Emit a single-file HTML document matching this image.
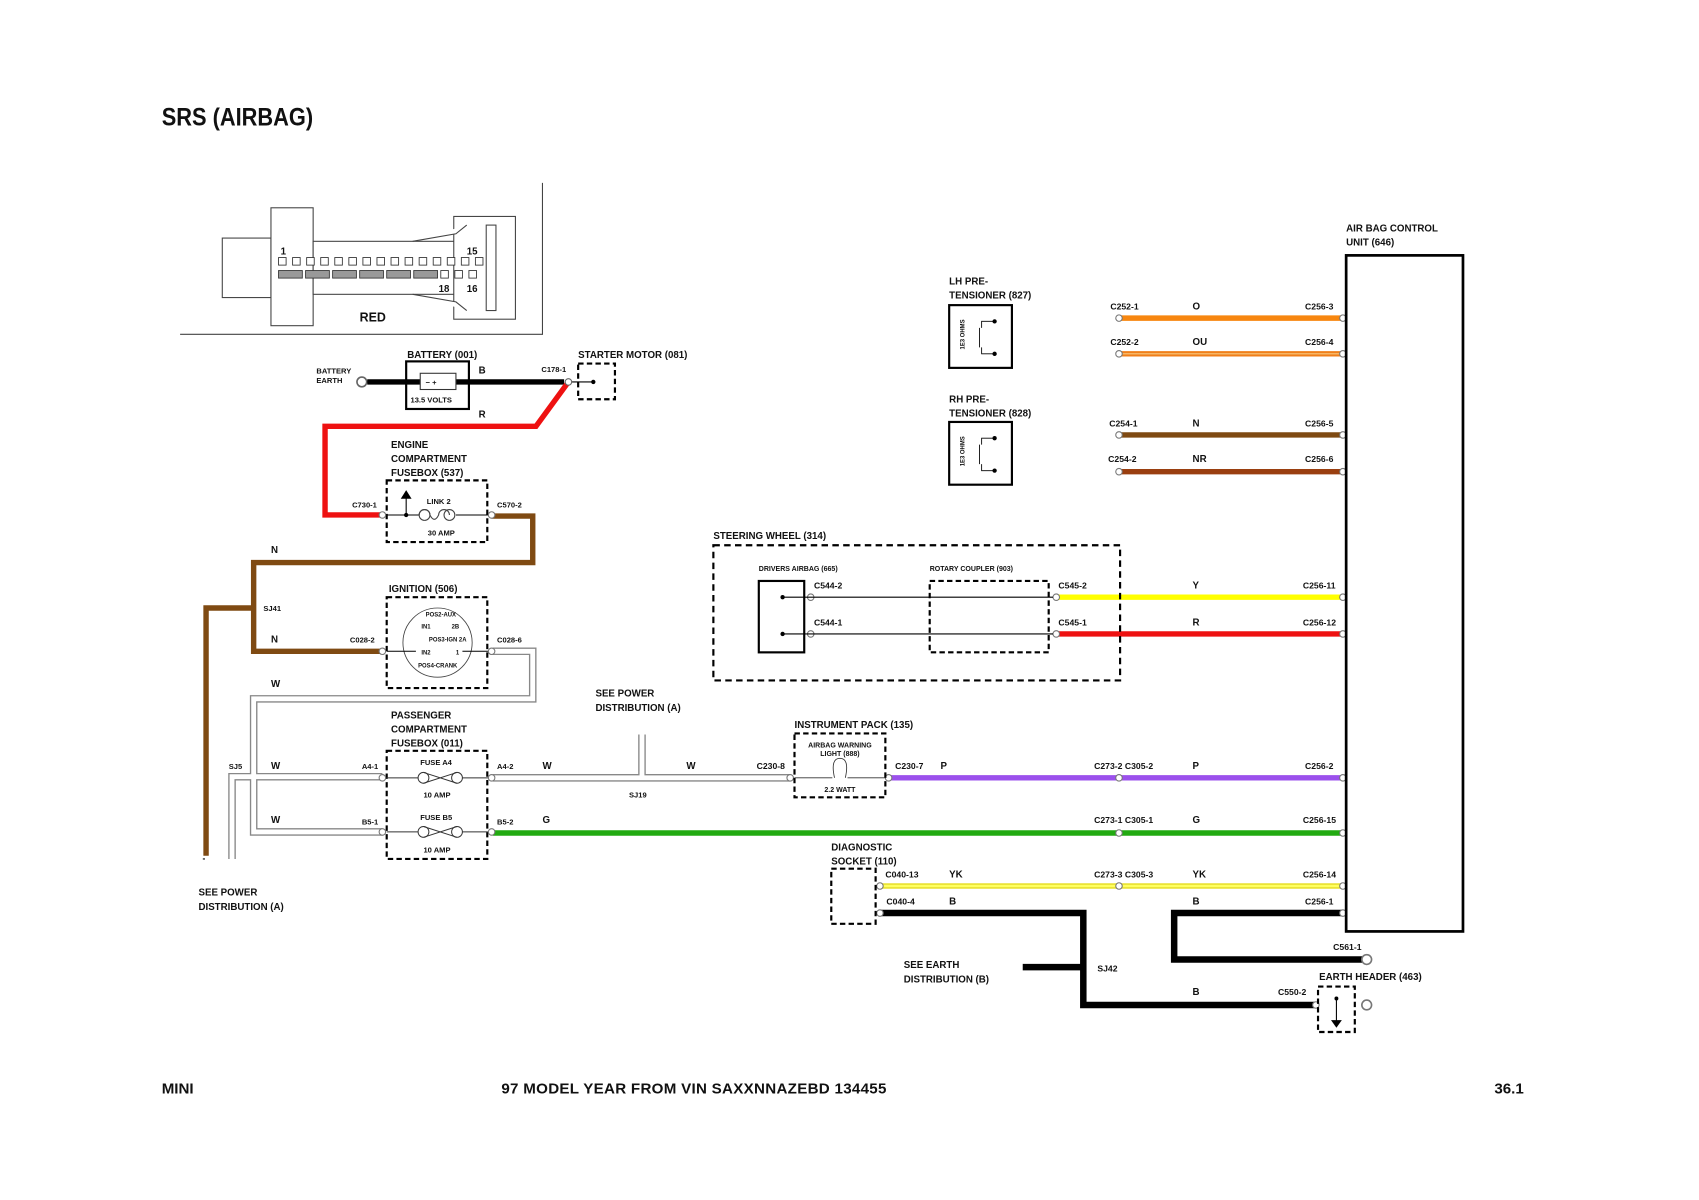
<!DOCTYPE html>
<html><head><meta charset="utf-8"><style>
html,body{margin:0;padding:0;background:#fff}
svg{display:block}
text{font-family:"Liberation Sans Narrow","Liberation Sans",sans-serif;font-weight:bold;fill:#111}
.s{font-size:9px}.m{font-size:11.5px}.xs{font-size:7px}.l{font-size:14px}
</style></head><body>
<svg width="1699" height="1200" viewBox="-1.5 -1.1 1570.7 1109.4" preserveAspectRatio="none" xmlns="http://www.w3.org/2000/svg">
<rect x="-2" y="-2" width="1580" height="1120" fill="#fff"/>
<text x="148" y="115" style="font-size:23px" textLength="140" lengthAdjust="spacingAndGlyphs">SRS (AIRBAG)</text>

<!-- connector picture -->
<g fill="#fff" stroke="#444" stroke-width="1">
<path d="M500 168 V308 H165" fill="none"/>
<rect x="204" y="219" width="45" height="55"/>
<rect x="249" y="191" width="39" height="109"/>
<rect x="288" y="222" width="162" height="49"/>
<rect x="418" y="199" width="57" height="95"/>
<rect x="448" y="207" width="9" height="79"/>
<path d="M380 222 L420 215 L430 207 M380 271 L420 278 L430 286"/>
</g>
<g fill="#fff" stroke="#333" stroke-width="0.8">
<rect x="256" y="237" width="7" height="7"/><rect x="269" y="237" width="7" height="7"/><rect x="282" y="237" width="7" height="7"/><rect x="295" y="237" width="7" height="7"/><rect x="308" y="237" width="7" height="7"/><rect x="321" y="237" width="7" height="7"/><rect x="334" y="237" width="7" height="7"/><rect x="347" y="237" width="7" height="7"/><rect x="360" y="237" width="7" height="7"/><rect x="373" y="237" width="7" height="7"/><rect x="386" y="237" width="7" height="7"/><rect x="399" y="237" width="7" height="7"/><rect x="412" y="237" width="7" height="7"/><rect x="425" y="237" width="7" height="7"/><rect x="438" y="237" width="7" height="7"/>
<rect x="256" y="249" width="22" height="7" fill="#999"/><rect x="281" y="249" width="22" height="7" fill="#999"/><rect x="306" y="249" width="22" height="7" fill="#999"/><rect x="331" y="249" width="22" height="7" fill="#999"/><rect x="356" y="249" width="22" height="7" fill="#999"/><rect x="381" y="249" width="22" height="7" fill="#999"/>
<rect x="406" y="249" width="7" height="7"/><rect x="419" y="249" width="7" height="7"/><rect x="432" y="249" width="7" height="7"/>
</g>
<text x="258" y="234" class="s">1</text><text x="430" y="234" class="s">15</text>
<text x="404" y="269" class="s">18</text><text x="430" y="269" class="s">16</text>
<text x="331" y="296" class="m">RED</text>

<!-- battery -->
<text x="375" y="330" class="s">BATTERY (001)</text>
<text x="291" y="344" class="xs">BATTERY</text><text x="291" y="353" class="xs">EARTH</text>
<circle cx="333" cy="352" r="4.5" fill="#fff" stroke="#666" stroke-width="1.5"/>
<path d="M338 352 H520" stroke="#000" stroke-width="5"/>
<rect x="374" y="333" width="58" height="44" fill="none" stroke="#000" stroke-width="2"/>
<rect x="387" y="344" width="33" height="15" fill="#fff" stroke="#333"/>
<text x="392" y="355" class="xs">−  +</text>
<text x="378" y="371" class="xs">13.5 VOLTS</text>
<text x="441" y="344" class="s">B</text><text x="441" y="385" class="s">R</text>
<text x="499" y="343" class="xs">C178-1</text>
<path d="M524 352 L494 393 H299 V475 H352" fill="none" stroke="#ee1111" stroke-width="5"/>
<rect x="533" y="335" width="34" height="33" fill="none" stroke="#000" stroke-width="2" stroke-dasharray="5,3"/>
<path d="M525 352 H547" stroke="#000"/><circle cx="547" cy="352" r="2" fill="#000"/>
<circle cx="524" cy="352" r="3" fill="#fff" stroke="#666"/>
<text x="533" y="330" class="s">STARTER MOTOR (081)</text>

<!-- engine fusebox -->
<text x="360" y="413" class="s">ENGINE</text><text x="360" y="426" class="s">COMPARTMENT</text><text x="360" y="439" class="s">FUSEBOX (537)</text>
<rect x="356" y="443" width="93" height="57" fill="none" stroke="#000" stroke-width="2" stroke-dasharray="5,3"/>
<text x="324" y="468" class="xs">C730-1</text><text x="458" y="468" class="xs">C570-2</text>
<text x="393" y="465" class="xs">LINK 2</text><text x="394" y="494" class="xs">30 AMP</text>
<path d="M356 475 H386 M420 475 H452 M374 475 V458" stroke="#000" fill="none"/>
<path d="M369 460 L374 452 L379 460Z" fill="#000"/><circle cx="374" cy="475" r="2" fill="#000"/>
<path d="M386 475 a5 5 0 0 1 10 0 q4 8 8 0 a5 5 0 0 1 10 0" fill="none" stroke="#444"/>
<circle cx="391" cy="475" r="5" fill="none" stroke="#444"/><circle cx="414" cy="475" r="5" fill="none" stroke="#444"/>
<path d="M453 476 H491 V519 H233 V601 H352 M233 561 H189 V790" fill="none" stroke="#7f4a12" stroke-width="5"/>
<text x="249" y="510" class="s">N</text><text x="249" y="593" class="s">N</text>
<text x="242" y="564" class="xs">SJ41</text>
<path d="M186 793 h2" stroke="#000"/>

<!-- ignition -->
<text x="358" y="546" class="s">IGNITION (506)</text>
<rect x="356" y="551" width="93" height="84" fill="none" stroke="#000" stroke-width="2" stroke-dasharray="5,3"/>
<circle cx="403" cy="593" r="32" fill="none" stroke="#444" stroke-width="0.8"/>
<g style="font-size:5.5px"><text x="392" y="569">POS2-AUX</text><text x="388" y="580">IN1</text><text x="416" y="580">2B</text><text x="395" y="592">POS3-IGN 2A</text><text x="388" y="604">IN2</text><text x="420" y="604">1</text><text x="385" y="616">POS4-CRANK</text></g>
<text x="322" y="593" class="xs">C028-2</text><text x="458" y="593" class="xs">C028-6</text>
<path d="M356 601 H383 M426 601 H452" stroke="#000"/>

<!-- white wires -->
<g fill="none" stroke="#888" stroke-width="7">
<path d="M454 601 H491 V645 H233 V768 H352"/><path d="M233 717 H352 M233 717 H213 V793"/>
<path d="M454 718 H729 M592 718 V678"/></g>
<g fill="none" stroke="#fff" stroke-width="4.5">
<path d="M454 601 H491 V645 H233 V768 H352"/><path d="M233 717 H352 M233 717 H213 V793"/>
<path d="M454 718 H729 M592 718 V678"/></g>
<text x="249" y="634" class="s">W</text><text x="249" y="710" class="s">W</text><text x="249" y="760" class="s">W</text>
<text x="210" y="710" class="xs">SJ5</text>
<text x="182" y="827" class="s">SEE POWER</text><text x="182" y="840" class="s">DISTRIBUTION (A)</text>

<!-- passenger fusebox -->
<text x="360" y="663" class="s">PASSENGER</text><text x="360" y="676" class="s">COMPARTMENT</text><text x="360" y="689" class="s">FUSEBOX (011)</text>
<rect x="356" y="693" width="93" height="100" fill="none" stroke="#000" stroke-width="2" stroke-dasharray="5,3"/>
<text x="333" y="710" class="xs">A4-1</text><text x="458" y="710" class="xs">A4-2</text>
<text x="333" y="761" class="xs">B5-1</text><text x="458" y="761" class="xs">B5-2</text>
<text x="387" y="706" class="xs">FUSE A4</text><text x="390" y="736" class="xs">10 AMP</text>
<text x="387" y="757" class="xs">FUSE B5</text><text x="390" y="787" class="xs">10 AMP</text>
<g fill="none" stroke="#333" stroke-width="0.9">
<path d="M356 718 H385 M426 718 H452 M356 768 H385 M426 768 H452"/>
<circle cx="390" cy="718" r="5"/><circle cx="421" cy="718" r="5"/><path d="M390 713 L421 723 M390 723 L421 713"/>
<circle cx="390" cy="768" r="5"/><circle cx="421" cy="768" r="5"/><path d="M390 763 L421 773 M390 773 L421 763"/>
</g>
<text x="500" y="710" class="s">W</text><text x="633" y="710" class="s">W</text>
<text x="580" y="736" class="xs">SJ19</text>
<text x="549" y="643" class="s">SEE POWER</text><text x="549" y="656" class="s">DISTRIBUTION (A)</text>

<!-- colored wires -->
<g fill="none" stroke-width="5">
<path d="M1033 293 H1240" stroke="#f7860f"/>
<path d="M1033 326 H1240" stroke="#f07f1a"/>
<path d="M1033 401 H1240" stroke="#7f4a12"/>
<path d="M1033 435 H1240" stroke="#9a3f10"/>
<path d="M975 551 H1240" stroke="#ffff00"/>
<path d="M975 585 H1240" stroke="#ee1111"/>
<path d="M820 718 H1240" stroke="#9b50ec"/>
<path d="M454 769 H1240" stroke="#22aa11"/>
<path d="M812 818 H1240" stroke="#e8e030"/>
<path d="M812 843 H1000 V928 H1215 M944 893 H1000 M1240 843 H1084 V886 H1258" stroke="#000" stroke-width="6"/>
</g>
<path d="M1033 326 H1240" stroke="#f8c880" stroke-width="1"/>
<path d="M812 818 H1240" stroke="#ffff60" stroke-width="2"/>
<g fill="#fff" stroke="#777" stroke-width="1">
<circle cx="1033" cy="293" r="3"/><circle cx="1240" cy="293" r="3"/><circle cx="1033" cy="326" r="3"/><circle cx="1240" cy="326" r="3"/>
<circle cx="1033" cy="401" r="3"/><circle cx="1240" cy="401" r="3"/><circle cx="1033" cy="435" r="3"/><circle cx="1240" cy="435" r="3"/>
<circle cx="1240" cy="551" r="3"/><circle cx="1240" cy="585" r="3"/><circle cx="1240" cy="718" r="3"/><circle cx="1240" cy="769" r="3"/>
<circle cx="1240" cy="818" r="3"/><circle cx="1240" cy="843" r="3"/><circle cx="1033" cy="718" r="3"/><circle cx="1033" cy="769" r="3"/><circle cx="1033" cy="818" r="3"/>
<circle cx="975" cy="551" r="3"/><circle cx="975" cy="585" r="3"/><circle cx="748" cy="551" r="3"/><circle cx="748" cy="585" r="3"/>
<circle cx="729" cy="718" r="3"/><circle cx="820" cy="718" r="3"/><circle cx="812" cy="818" r="3"/><circle cx="812" cy="843" r="3"/>
<circle cx="352" cy="475" r="3"/><circle cx="453" cy="475" r="3"/><circle cx="352" cy="601" r="3"/><circle cx="453" cy="601" r="3"/>
<circle cx="352" cy="718" r="3"/><circle cx="453" cy="718" r="3"/><circle cx="352" cy="768" r="3"/><circle cx="453" cy="768" r="3"/>
<circle cx="1215" cy="928" r="3"/>
<circle cx="1262" cy="886" r="4.5" stroke-width="1.5"/><circle cx="1262" cy="928" r="4.5" stroke-width="1.5"/>
</g>
<g class="xs" style="font-size:8px">
<text x="1025" y="285">C252-1</text><text x="1205" y="285">C256-3</text>
<text x="1025" y="318">C252-2</text><text x="1205" y="318">C256-4</text>
<text x="1024" y="393">C254-1</text><text x="1205" y="393">C256-5</text>
<text x="1023" y="426">C254-2</text><text x="1205" y="426">C256-6</text>
<text x="977" y="543">C545-2</text><text x="1203" y="543">C256-11</text>
<text x="977" y="577">C545-1</text><text x="1203" y="577">C256-12</text>
<text x="826" y="710">C230-7</text><text x="698" y="710">C230-8</text><text x="1010" y="710">C273-2 C305-2</text><text x="1205" y="710">C256-2</text>
<text x="1010" y="760">C273-1 C305-1</text><text x="1203" y="760">C256-15</text>
<text x="817" y="810">C040-13</text><text x="1010" y="810">C273-3 C305-3</text><text x="1203" y="810">C256-14</text>
<text x="818" y="835">C040-4</text><text x="1205" y="835">C256-1</text>
<text x="1231" y="877">C561-1</text><text x="1180" y="919">C550-2</text><text x="1013" y="897">SJ42</text>
</g>
<g class="s">
<text x="1101" y="285">O</text><text x="1101" y="318">OU</text><text x="1101" y="393">N</text><text x="1101" y="426">NR</text>
<text x="1101" y="543">Y</text><text x="1101" y="577">R</text><text x="868" y="710">P</text><text x="1101" y="710">P</text>
<text x="500" y="760">G</text><text x="1101" y="760">G</text><text x="876" y="810">YK</text><text x="1101" y="810">YK</text>
<text x="876" y="835">B</text><text x="1101" y="835">B</text><text x="1101" y="919">B</text>
</g>

<!-- ACU -->
<text x="1243" y="213" class="s">AIR BAG CONTROL</text><text x="1243" y="226" class="s">UNIT (646)</text>
<rect x="1243" y="235" width="108" height="625" fill="none" stroke="#000" stroke-width="2.5"/>

<!-- pretensioners -->
<text x="876" y="262" class="s">LH PRE-</text><text x="876" y="275" class="s">TENSIONER (827)</text>
<text x="876" y="371" class="s">RH PRE-</text><text x="876" y="384" class="s">TENSIONER (828)</text>
<g fill="none" stroke="#000">
<rect x="876" y="281" width="58" height="58" stroke-width="2"/>
<rect x="876" y="389" width="58" height="58" stroke-width="2"/>
<path d="M918 296 H906 V302 M906 320 V326 H918 M904 302 V320" stroke-width="0.8"/>
<path d="M918 404 H906 V410 M906 428 V434 H918 M904 410 V428" stroke-width="0.8"/>
</g>
<g fill="#000"><circle cx="918" cy="296" r="2"/><circle cx="918" cy="326" r="2"/><circle cx="918" cy="404" r="2"/><circle cx="918" cy="434" r="2"/></g>
<text transform="translate(890,322) rotate(-90)" style="font-size:5.5px">1E3 OHMS</text>
<text transform="translate(890,430) rotate(-90)" style="font-size:5.5px">1E3 OHMS</text>

<!-- steering wheel -->
<text x="658" y="497" class="s">STEERING WHEEL (314)</text>
<rect x="658" y="503" width="376" height="125" fill="none" stroke="#000" stroke-width="2" stroke-dasharray="6,4"/>
<text x="700" y="527" style="font-size:6.5px">DRIVERS AIRBAG (665)</text>
<text x="858" y="527" style="font-size:6.5px">ROTARY COUPLER (903)</text>
<rect x="700" y="536" width="42" height="66" fill="none" stroke="#000" stroke-width="2"/>
<rect x="858" y="536" width="110" height="66" fill="none" stroke="#000" stroke-width="2" stroke-dasharray="5,3"/>
<path d="M722 551 H972 M722 585 H972" stroke="#000"/>
<circle cx="722" cy="551" r="2" fill="#000"/><circle cx="722" cy="585" r="2" fill="#000"/>
<text x="751" y="543" style="font-size:8px">C544-2</text><text x="751" y="577" style="font-size:8px">C544-1</text>

<!-- instrument pack -->
<text x="733" y="672" class="s">INSTRUMENT PACK (135)</text>
<rect x="733" y="677" width="84" height="59" fill="none" stroke="#000" stroke-width="2" stroke-dasharray="5,3"/>
<text x="775" y="690" text-anchor="middle" style="font-size:6.5px">AIRBAG WARNING</text>
<text x="775" y="698" text-anchor="middle" style="font-size:6.5px">LIGHT (888)</text>
<text x="775" y="731" text-anchor="middle" style="font-size:6.5px">2.2 WATT</text>
<path d="M733 718 H768 M782 718 H817 M770 718 Q766 700 775 700 Q784 700 780 718" fill="none" stroke="#333" stroke-width="0.8"/>

<!-- diagnostic -->
<text x="767" y="785" class="s">DIAGNOSTIC</text><text x="767" y="798" class="s">SOCKET (110)</text>
<rect x="767" y="802" width="41" height="51" fill="none" stroke="#000" stroke-width="2" stroke-dasharray="5,3"/>
<text x="834" y="894" class="s">SEE EARTH</text><text x="834" y="907" class="s">DISTRIBUTION (B)</text>

<!-- earth header -->
<text x="1218" y="905" class="s">EARTH HEADER (463)</text>
<rect x="1217" y="911" width="34" height="42" fill="none" stroke="#000" stroke-width="2" stroke-dasharray="5,3"/>
<path d="M1234 922 V945" stroke="#000"/><circle cx="1234" cy="922" r="1.8" fill="#000"/>
<path d="M1229 942 H1239 L1234 949Z" fill="#000"/>

<!-- footer -->
<text x="148" y="1010" class="l">MINI</text>
<text x="462" y="1010" class="l" textLength="356">97 MODEL YEAR FROM VIN SAXXNNAZEBD 134455</text>
<text x="1380" y="1010" class="l">36.1</text>
</svg>
</body></html>
